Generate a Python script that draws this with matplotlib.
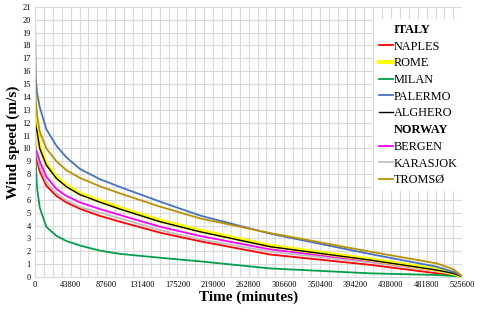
import matplotlib.pyplot as plt
from matplotlib.lines import Line2D
from matplotlib.ticker import MultipleLocator

# minutes of the year, sorted wind speed (duration curves)
minutes = [0, 800, 2500, 5800, 13900, 26300, 38600, 55400, 80000, 104600,
           153900, 203100, 289300, 412400, 494500, 515000, 525600]

naples = [11.0, 9.8, 9.0, 8.2, 7.1, 6.3, 5.8, 5.3, 4.75, 4.3,
          3.45, 2.78, 1.75, 0.95, 0.29, 0.15, 0.02]
rome = [14.3, 12.2, 11.5, 10.1, 8.8, 7.75, 7.1, 6.48, 5.9, 5.36,
        4.38, 3.6, 2.42, 1.37, 0.58, 0.3, 0.02]
milan = [10.0, 9.0, 6.9, 5.4, 3.9, 3.2, 2.8, 2.45, 2.05, 1.8,
         1.5, 1.22, 0.67, 0.29, 0.16, 0.08, 0.0]
palermo = [20.1, 15.6, 14.3, 13.2, 11.5, 10.2, 9.3, 8.4, 7.6, 7.0,
           5.86, 4.78, 3.37, 1.79, 0.8, 0.4, 0.05]
alghero = [12.4, 11.8, 11.3, 10.0, 8.7, 7.67, 7.02, 6.4, 5.82, 5.28,
           4.3, 3.52, 2.36, 1.32, 0.54, 0.28, 0.02]
bergen = [10.1, 9.9, 9.7, 9.0, 7.8, 6.85, 6.3, 5.8, 5.28, 4.82,
          3.91, 3.19, 2.15, 1.24, 0.5, 0.25, 0.02]
karasjok = [11.0, 10.0, 9.4, 8.6, 7.4, 6.5, 5.95, 5.45, 5.0, 4.56,
            3.65, 2.93, 1.97, 1.14, 0.45, 0.22, 0.02]
tromso = [17.2, 13.8, 12.6, 11.3, 10.0, 9.0, 8.3, 7.7, 7.05, 6.5,
          5.47, 4.56, 3.42, 1.97, 1.06, 0.6, 0.05]

italy = [('NAPLES', naples, '#FF0000', 1.3),
         ('ROME', rome, '#FFFF00', 3.0),
         ('MILAN', milan, '#00A04B', 1.3),
         ('PALERMO', palermo, '#4472C4', 1.3),
         ('ALGHERO', alghero, '#000000', 1.0)]
norway = [('BERGEN', bergen, '#FF00FF', 1.3),
          ('KARASJOK', karasjok, '#BFBFBF', 1.3),
          ('TROMSØ', tromso, '#BF8F00', 1.3)]

plt.rcParams['font.family'] = 'Liberation Serif'

fig = plt.figure(figsize=(4.8, 3.12), dpi=100)
ax = fig.add_axes([0.073, 0.112, 0.89, 0.866])

# draw order: red, gray, magenta, green, yellow, black, blue, brown
order = [italy[0], norway[1], norway[0], italy[2], italy[1], italy[4], italy[3], norway[2]]
for name, vals, color, lw in order:
    ax.plot(minutes, vals, color=color, lw=lw)

ax.set_xlim(0, 525600)
ax.set_ylim(0, 21)
ax.xaxis.set_major_locator(MultipleLocator(43800))
ax.xaxis.set_minor_locator(MultipleLocator(10950))
ax.yaxis.set_major_locator(MultipleLocator(1))
ax.grid(which='both', color='#D9D9D9', lw=0.8)
ax.set_axisbelow(True)
ax.tick_params(which='both', length=0, labelsize=6, pad=3)
for s in ax.spines.values():
    s.set_visible(False)
ax.spines['left'].set_visible(True)
ax.spines['left'].set_color('#D9D9D9')
ax.spines['bottom'].set_visible(True)
ax.spines['bottom'].set_color('#D9D9D9')

ax.set_xlabel('Time (minutes)', fontsize=11, fontweight='bold', labelpad=1)
ax.set_ylabel('Wind speed (m/s)', fontsize=11, fontweight='bold', labelpad=2)

handles = []
labels = []
blank = Line2D([], [], color='none')
handles.append(blank)
labels.append('ITALY')
for name, vals, color, lw in italy:
    handles.append(Line2D([], [], color=color, lw=lw))
    labels.append(name)
handles.append(blank)
labels.append('NORWAY')
for name, vals, color, lw in norway:
    handles.append(Line2D([], [], color=color, lw=lw))
    labels.append(name)

leg = ax.legend(handles, labels, loc='upper right', bbox_to_anchor=(1.0, 0.955),
                borderaxespad=0, fontsize=8.8, frameon=True, fancybox=False,
                edgecolor='none', facecolor='white', framealpha=1,
                handlelength=1.15, handletextpad=0.05, labelspacing=0.385,
                borderpad=0.4)
for t in leg.get_texts():
    if t.get_text() in ('ITALY', 'NORWAY'):
        t.set_fontweight('bold')

fig.savefig('out.png', dpi=100)
